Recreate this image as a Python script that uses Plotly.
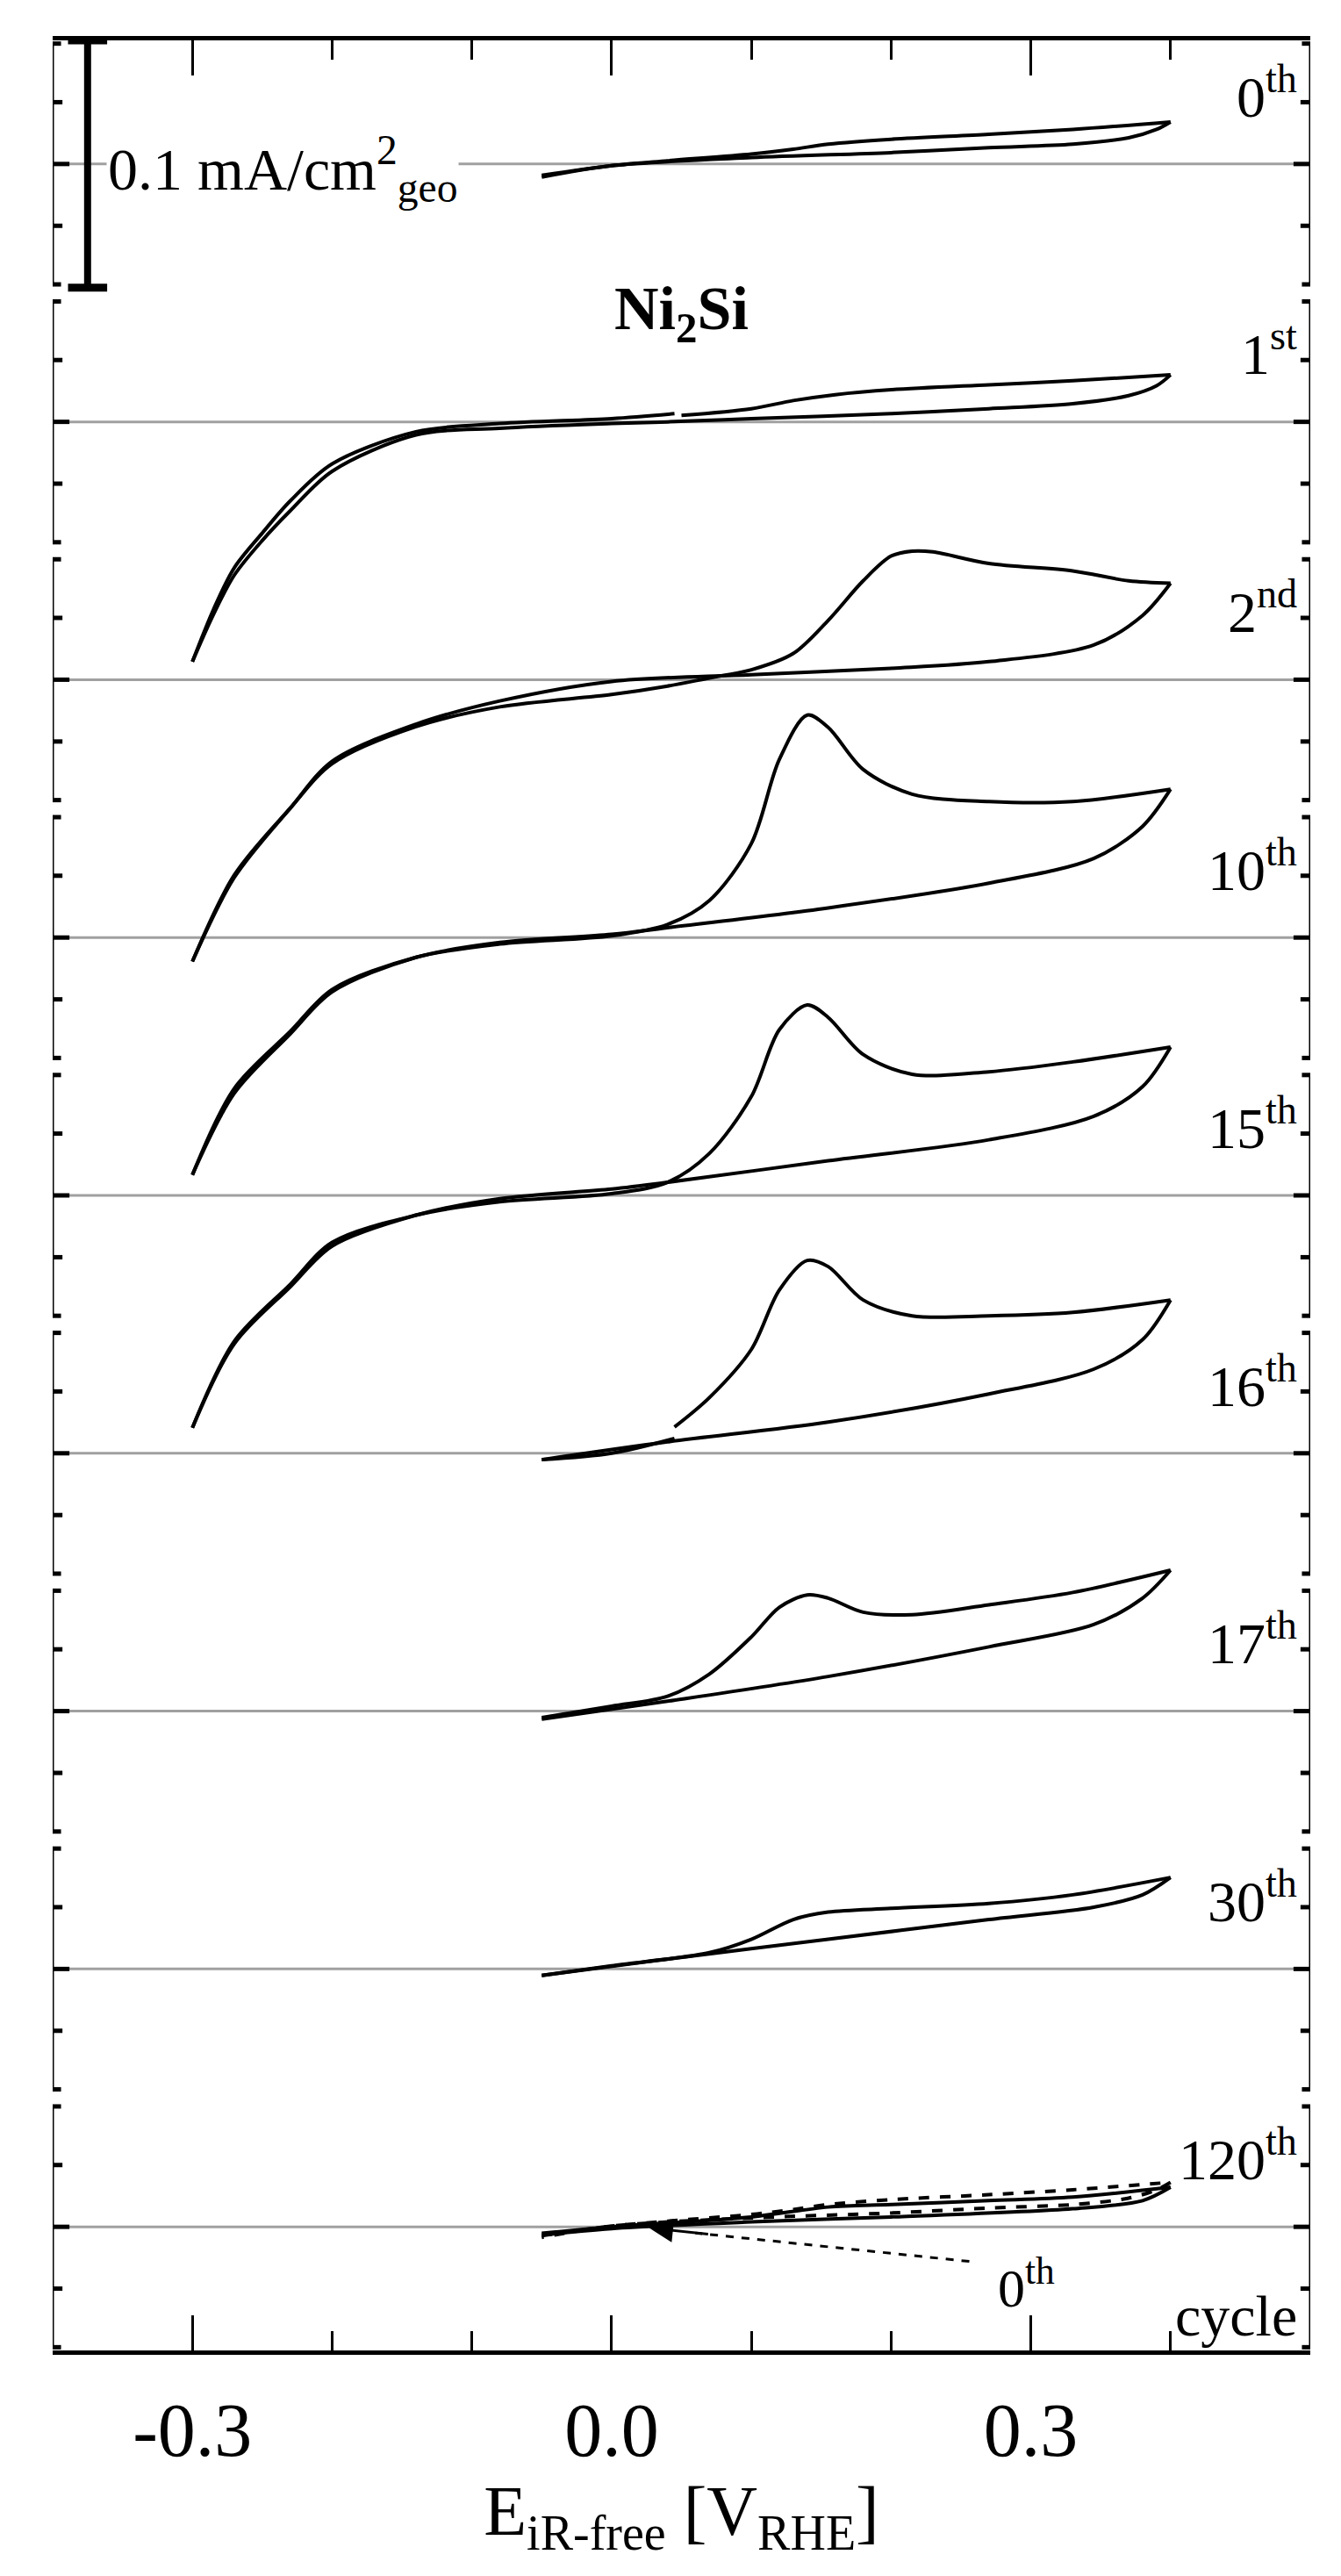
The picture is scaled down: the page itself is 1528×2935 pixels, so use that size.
import plotly.graph_objects as go

# spacing between stacked cycles (mA/cm2)
step = 0.1043

cycles = ["0", "1", "2", "10", "15", "16", "17", "30", "120"]
suffix = ["th", "st", "nd", "th", "th", "th", "th", "th", "th"]

# cycle 0
c0_fwd_x = [-0.05, 0, 0.04, 0.10, 0.13, 0.155, 0.2, 0.27, 0.33, 0.40]
c0_fwd_y = [-0.0046, -0.0007, 0.0013, 0.004, 0.006, 0.008, 0.010, 0.012, 0.014, 0.017]
c0_rev_x = [0.40, 0.39, 0.37, 0.33, 0.27, 0.2, 0.1, 0, -0.05]
c0_rev_y = [0.017, 0.014, 0.0106, 0.008, 0.0066, 0.0046, 0.0026, -0.0007, -0.0053]

# cycle 1
c1_a_x = [0.05, 0.1, 0.13, 0.16, 0.2, 0.27, 0.33, 0.4]
c1_a_y = [0.0026, 0.0053, 0.0086, 0.011, 0.013, 0.015, 0.0166, 0.019]
c1_rev_x = [0.4, 0.39, 0.37, 0.33, 0.27, 0.2, 0.1, 0.04, 0, -0.08, -0.14, -0.2, -0.23, -0.25, -0.27, -0.285, -0.3]
c1_rev_y = [0.019, 0.0146, 0.0106, 0.0073, 0.0053, 0.0033, 0.0013, 0, -0.0007, -0.0026, -0.0053, -0.020, -0.036, -0.048, -0.062, -0.078, -0.097]
c1_b_x = [-0.3, -0.285, -0.27, -0.25, -0.23, -0.2, -0.14, -0.08, 0, 0.045]
c1_b_y = [-0.097, -0.076, -0.059, -0.045, -0.032, -0.017, -0.004, -0.0007, 0.0013, 0.0033]

# cycle 2
c2_fwd_x = [-0.3, -0.27, -0.23, -0.2, -0.14, -0.08, 0, 0.04, 0.07, 0.1, 0.13, 0.155, 0.18, 0.2, 0.215, 0.23, 0.27, 0.33, 0.37, 0.40]
c2_fwd_y = [-0.114, -0.079, -0.052, -0.034, -0.019, -0.011, -0.006, -0.0026, 0.0007, 0.004, 0.0106, 0.024, 0.040, 0.050, 0.052, 0.0517, 0.047, 0.044, 0.040, 0.039]
c2_rev_x = [0.40, 0.38, 0.345, 0.27, 0.2, 0.1, 0, -0.08, -0.14, -0.2, -0.23, -0.27, -0.3]
c2_rev_y = [0.039, 0.026, 0.014, 0.0073, 0.0046, 0.002, -0.0007, -0.0086, -0.018, -0.033, -0.052, -0.080, -0.114]

# cycles 10 and 15 share the potential grid
c10_fwd_x = [-0.3, -0.27, -0.23, -0.2, -0.14, -0.08, 0, 0.04, 0.07, 0.1, 0.12, 0.14, 0.155, 0.18, 0.215, 0.27, 0.33, 0.40]
c10_fwd_y = [-0.096, -0.061, -0.038, -0.021, -0.008, -0.0026, 0.0007, 0.0053, 0.015, 0.038, 0.072, 0.090, 0.085, 0.068, 0.058, 0.055, 0.055, 0.060]
c10_rev_x = [0.40, 0.38, 0.345, 0.27, 0.155, 0.04, 0, -0.08, -0.14, -0.2, -0.23, -0.27, -0.3]
c10_rev_y = [0.060, 0.045, 0.032, 0.022, 0.012, 0.004, 0.0013, -0.002, -0.008, -0.022, -0.039, -0.063, -0.096]
c15_fwd_y = [-0.094, -0.059, -0.036, -0.019, -0.008, -0.0026, 0.0007, 0.0053, 0.017, 0.040, 0.067, 0.077, 0.072, 0.057, 0.049, 0.050, 0.054, 0.060]
c15_rev_y = [0.060, 0.044, 0.032, 0.0225, 0.014, 0.0053, 0.0026, -0.0013, -0.008, -0.0205, -0.037, -0.060, -0.094]

# short-range cycles: reverse grid
rev_x = [0.40, 0.38, 0.345, 0.27, 0.155, 0.04, -0.05]

c16_a_x = [-0.05, 0, 0.045]
c16_a_y = [-0.0026, 0, 0.006]
c16_b_x = [0.045, 0.07, 0.1, 0.12, 0.14, 0.155, 0.18, 0.215, 0.27, 0.33, 0.40]
c16_b_y = [0.0106, 0.0225, 0.042, 0.066, 0.078, 0.0755, 0.062, 0.0556, 0.0556, 0.057, 0.062]
c16_rev_y = [0.062, 0.046, 0.034, 0.024, 0.0126, 0.0046, -0.0026]

c17_fwd_x = [-0.05, 0, 0.04, 0.07, 0.1, 0.12, 0.14, 0.155, 0.18, 0.215, 0.27, 0.33, 0.40]
c17_fwd_y = [-0.0026, 0.002, 0.006, 0.015, 0.030, 0.042, 0.047, 0.0457, 0.040, 0.039, 0.043, 0.048, 0.057]
c17_rev_y = [0.057, 0.0457, 0.035, 0.026, 0.014, 0.004, -0.0033]

c30_fwd_x = [-0.05, 0, 0.07, 0.1, 0.13, 0.155, 0.2, 0.27, 0.33, 0.40]
c30_fwd_y = [-0.0026, 0.0013, 0.0066, 0.012, 0.020, 0.023, 0.0245, 0.0265, 0.030, 0.037]
c30_rev_y = [0.037, 0.030, 0.025, 0.020, 0.012, 0.004, -0.0026]

c120_fwd_x = [-0.05, 0, 0.1, 0.155, 0.2, 0.27, 0.33, 0.40]
c120_fwd_y = [-0.0026, 0, 0.004, 0.008, 0.009, 0.0106, 0.012, 0.016]
c120_rev_x = [0.40, 0.38, 0.33, 0.2, 0.1, 0, -0.05]
c120_rev_y = [0.016, 0.0106, 0.0073, 0.004, 0.002, -0.0007, -0.0033]

segments = [
    (0, c0_fwd_x, c0_fwd_y), (0, c0_rev_x, c0_rev_y),
    (1, c1_a_x, c1_a_y), (1, c1_rev_x, c1_rev_y), (1, c1_b_x, c1_b_y),
    (2, c2_fwd_x, c2_fwd_y), (2, c2_rev_x, c2_rev_y),
    (3, c10_fwd_x, c10_fwd_y), (3, c10_rev_x, c10_rev_y),
    (4, c10_fwd_x, c15_fwd_y), (4, c10_rev_x, c15_rev_y),
    (5, c16_a_x, c16_a_y), (5, c16_b_x, c16_b_y), (5, rev_x, c16_rev_y),
    (6, c17_fwd_x, c17_fwd_y), (6, rev_x, c17_rev_y),
    (7, c30_fwd_x, c30_fwd_y), (7, rev_x, c30_rev_y),
    (8, c120_fwd_x, c120_fwd_y), (8, c120_rev_x, c120_rev_y),
]

FONT = "Liberation Serif"
fig = go.Figure()

for i, xs, ys in segments:
    off = -i * step
    fig.add_trace(go.Scatter(x=xs, y=[v + off for v in ys], mode="lines",
                             line=dict(color="black", width=4, shape="spline", smoothing=0.9),
                             showlegend=False, hoverinfo="skip"))

# 0th cycle repeated, dashed, on the 120th panel
for xs, ys in [(c0_fwd_x, c0_fwd_y), (c0_rev_x, c0_rev_y)]:
    fig.add_trace(go.Scatter(x=xs, y=[v - 8 * step + 0.001 for v in ys], mode="lines",
                             line=dict(color="black", width=4, dash="dash", shape="spline", smoothing=0.9),
                             showlegend=False, hoverinfo="skip"))

shapes = []
ann = []
for i in range(len(cycles)):
    b = -i * step
    shapes.append(dict(type="line", x0=-0.4, x1=0.5, y0=b, y1=b, layer="below",
                       line=dict(color="#a0a0a0", width=3)))
    top, bot = b + 0.0487, b - 0.0487
    for xe, d in [(-0.4, 1), (0.5, -1)]:
        shapes.append(dict(type="line", x0=xe, x1=xe, y0=bot, y1=top, line=dict(color="black", width=3)))
        for yy, ln in [(top, 0.006), (bot, 0.006), (b, 0.012), (b + 0.025, 0.007), (b - 0.025, 0.007)]:
            shapes.append(dict(type="line", x0=xe, x1=xe + d * ln, y0=yy, y1=yy,
                               line=dict(color="black", width=5)))
    ann.append(dict(x=0.492, y=b + 0.029, text=f"{cycles[i]}<sup>{suffix[i]}</sup>",
                    xanchor="right", yanchor="middle", showarrow=False,
                    font=dict(size=66, family=FONT, color="black")))

# scale bar
shapes.append(dict(type="line", x0=-0.375, x1=-0.375, y0=-0.05, y1=0.05, line=dict(color="black", width=8)))
for yy in [-0.05, 0.05]:
    shapes.append(dict(type="line", x0=-0.389, x1=-0.361, y0=yy, y1=yy, line=dict(color="black", width=9)))
ann.append(dict(x=-0.362, y=-0.002, text="0.1 mA/cm<sup>2</sup><sub>geo</sub>", xanchor="left",
                yanchor="middle", showarrow=False, bgcolor="white",
                font=dict(size=68, family=FONT, color="black")))
ann.append(dict(x=0.05, y=-step + 0.044, text="<b>Ni<sub>2</sub>Si</b>", showarrow=False,
                font=dict(size=70, family=FONT, color="black")))

# arrow to the dashed 0th cycle
b8 = -8 * step
shapes.append(dict(type="line", x0=0.256, x1=0.06, y0=b8 - 0.014, y1=b8 - 0.0025,
                   line=dict(color="black", width=3, dash="dash")))
ann.append(dict(x=0.027, y=b8 - 0.0005, ax=0.07, ay=b8 - 0.003, axref="x", ayref="y",
                xref="x", yref="y", text="", showarrow=True, arrowhead=2, arrowsize=1.8,
                arrowwidth=3, arrowcolor="black"))
ann.append(dict(x=0.275, y=b8 - 0.023, text="0<sup>th</sup>", showarrow=False, xanchor="left",
                font=dict(size=62, family=FONT, color="black")))
ann.append(dict(x=0.492, y=b8 - 0.036, text="cycle", showarrow=False, xanchor="right",
                font=dict(size=66, family=FONT, color="black")))

fig.update_layout(
    width=1528, height=2935, plot_bgcolor="white", paper_bgcolor="white",
    margin=dict(l=52, r=43, t=38, b=265),
    shapes=shapes, annotations=ann,
    xaxis=dict(range=[-0.4, 0.5], tickvals=[-0.3, 0.0, 0.3], ticktext=["-0.3", "0.0", "0.3"],
               ticks="inside", ticklen=40, tickwidth=3, tickcolor="black",
               minor=dict(tickvals=[-0.2, -0.1, 0.1, 0.2, 0.4], ticks="inside", ticklen=22,
                          tickwidth=3, tickcolor="black"),
               showline=True, linecolor="black", linewidth=5, mirror="ticks",
               showgrid=False, zeroline=False, ticklabelstandoff=12,
               tickfont=dict(size=86, family=FONT, color="black"),
               title=dict(text="E<sub>iR-free</sub> [V<sub>RHE</sub>]", standoff=0,
                          font=dict(size=80, family=FONT, color="black"))),
    yaxis=dict(range=[-8 * step - 0.05, 0.05], showticklabels=False, ticks="",
               showgrid=False, zeroline=False, showline=False),
)

fig.write_html("out.html")
